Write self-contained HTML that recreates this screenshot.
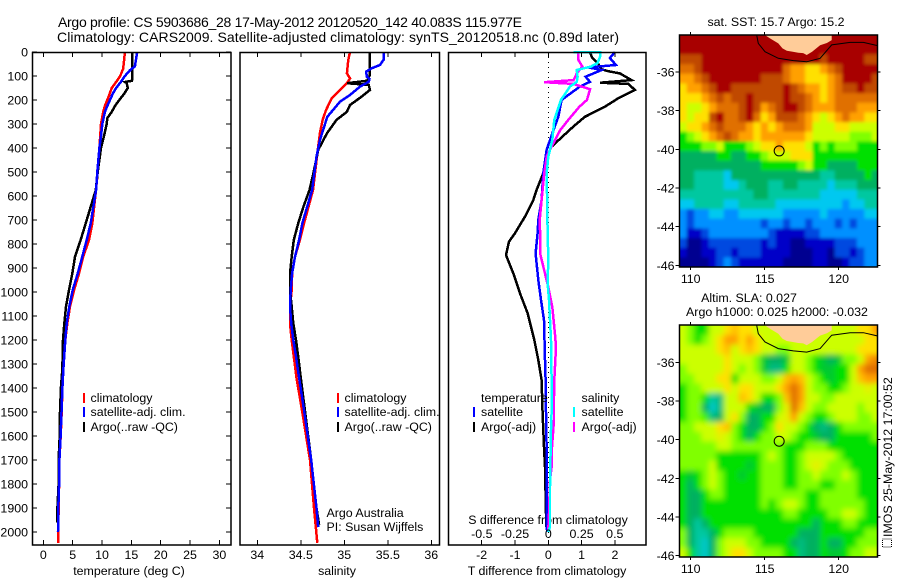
<!DOCTYPE html>
<html>
<head>
<meta charset="utf-8">
<title>Argo profile</title>
<style>
html,body{margin:0;padding:0;background:#fff;}
svg{display:block;}
text{font-family:"Liberation Sans",Arial,sans-serif;font-size:12.4px;fill:#000;}
</style>
</head>
<body>
<svg id="chart" width="900" height="580" viewBox="0 0 900 580" xmlns="http://www.w3.org/2000/svg">
<defs>
<filter id="sst-soften" filterUnits="userSpaceOnUse" x="640" y="0" width="260" height="300"><feGaussianBlur stdDeviation="1.6"/></filter>
<filter id="sla-soften" filterUnits="userSpaceOnUse" x="640" y="290" width="260" height="290"><feGaussianBlur stdDeviation="3"/></filter>
</defs>
<rect x="0" y="0" width="900" height="580" fill="#fff"/>
<text x="58" y="27" style="font-size:14px" textLength="464">Argo profile: CS 5903686_28 17-May-2012 20120520_142 40.083S 115.977E</text>
<text x="57" y="42" style="font-size:14px" textLength="562">Climatology: CARS2009. Satellite-adjusted climatology: synTS_20120518.nc (0.89d later)</text>
<text x="129" y="575" text-anchor="middle">temperature (deg C)</text>
<text x="337" y="575" text-anchor="middle">salinity</text>
<text x="547" y="575" text-anchor="middle">T difference from climatology</text>
<text x="548" y="524" text-anchor="middle">S difference from climatology</text>
<text x="776" y="26" text-anchor="middle">sat. SST: 15.7  Argo: 15.2</text>
<text x="749" y="302" text-anchor="middle">Altim. SLA: 0.027</text>
<text x="777" y="316" text-anchor="middle">Argo h1000: 0.025 h2000: -0.032</text>
<text x="326.5" y="517">Argo Australia</text>
<text x="326.5" y="531">PI: Susan Wijffels</text>
<g>
<rect x="882.5" y="539" width="9" height="8" fill="none" stroke="#000" stroke-width="1" stroke-dasharray="1 1"/>
<text transform="translate(892,537) rotate(-90)">IMOS 25-May-2012 17:00:52</text>
</g>
</svg>
<script>
// ---- profile data (depth in m) ----
var tClimDepth = [0,25,50,70,100,125,150,175,200,225,250,300,350,400,500,575,714,783,853,923,992,1061,1131,1200,1325,1400,1500,1600,1700,1800,1900,2000,2045];
var tClimValue = [13.9,13.8,13.7,13.6,13.1,12.4,11.65,11.3,10.9,10.5,10.2,9.83,9.7,9.55,9.26,8.98,8.35,7.79,6.8,6.08,5.23,4.55,4.09,3.75,3.41,3.25,3.13,2.96,2.75,2.7,2.6,2.56,2.55];
var tSatDepth = [0,60,75,100,125,150,175,200,225,250,300,350,400,500,575,714,783,853,923,992,1061,1131,1200,1325,1400,1500,1600,1700,1800,1900,2000];
var tSatValue = [16.0,15.6,14.8,13.9,13.2,12.4,11.8,11.36,10.9,10.5,10.05,9.83,9.55,9.2,9.0,8.07,7.39,6.64,5.86,5.0,4.43,3.98,3.75,3.41,3.25,3.1,2.95,2.75,2.7,2.55,2.5];
var tArgoDepth = [0,110,120,125,130,150,175,200,225,250,275,300,350,400,500,575,645,714,783,853,923,992,1061,1131,1200,1325,1400,1500,1600,1700,1800,1900,1960];
var tArgoValue = [15.17,15.17,15.1,13.9,14.2,14.4,13.75,12.95,12.2,11.65,10.9,10.8,10.34,9.83,9.26,8.95,8.07,7.22,6.37,5.4,4.94,4.38,3.87,3.58,3.36,3.24,3.0,2.85,2.8,2.6,2.6,2.4,2.4];

var sClimDepth = [0,33,89,110,130,158,193,242,283,339,394,505,575,714,783,853,923,992,1061,1131,1200,1269,1358,1500,1700,1900,2045];
var sClimValue = [35.065,35.046,35.03,35.065,35.03,34.95,34.855,34.79,34.75,34.72,34.70,34.663,34.64,34.537,34.49,34.433,34.40,34.395,34.376,34.376,34.395,34.42,34.45,34.517,34.606,34.652,34.69];
var sSatDepth = [0,33,54,68,82,103,112,124,144,179,207,270,367,436,547,575,714,783,853,923,992,1061,1131,1200,1269,1358,1500,1700,1900,1980];
var sSatValue = [35.45,35.45,35.41,35.315,35.25,35.26,35.29,35.28,35.18,35.065,34.95,34.805,34.72,34.68,34.64,34.63,34.517,34.48,34.433,34.40,34.384,34.376,34.39,34.414,34.445,34.48,34.54,34.62,34.68,34.70];
var sArgoDepth = [0,100,120,130,137,158,186,221,249,283,339,408,505,575,645,714,783,853,923,992,1061,1131,1200,1269,1358,1500,1700,1900,1970];
var sArgoValue = [35.295,35.29,35.26,35.03,35.28,35.295,35.2,35.065,35.03,34.91,34.8,34.70,34.645,34.6,34.53,34.47,34.42,34.395,34.376,34.376,34.395,34.414,34.445,34.47,34.5,34.55,34.62,34.68,34.71];

var dtSatDepth = [0,25,54,64,75,103,124,144,179,200,270,339,408,505,617,700,755,839,950,1033,1117,1283,1367,1500,1646,1784,1979,2000];
var dtSatValue = [2.0,1.85,2.03,1.2,1.6,1.12,1.25,0.95,0.6,0.4,0.3,0.12,-0.05,-0.15,-0.2,-0.3,-0.32,-0.38,-0.3,-0.22,-0.13,-0.1,-0.08,-0.07,-0.05,-0.05,-0.05,-0.03];
var dtArgoDepth = [0,25,50,72,80,89,117,128,133,158,193,228,270,311,394,436,505,575,617,686,755,790,846,922,1006,1089,1200,1283,1367,1505,1646,1729,1979];
var dtArgoValue = [1.25,1.32,1.5,1.6,1.8,2.15,2.5,1.55,2.4,2.6,2.1,1.7,1.1,0.75,0.1,-0.05,-0.15,-0.35,-0.45,-0.7,-1.0,-1.18,-1.27,-1.05,-0.85,-0.62,-0.42,-0.3,-0.2,-0.17,-0.13,-0.1,-0.06];
var dsSatDepth = [0,0,20,46,61,75,103,124,144,200,283,367,436,505,700,867,963,1033,1117,1200,1367,1500,1575,1729,1812,1979,2000];
var dsSatValue = [0.19,0.389,0.389,0.371,0.32,0.214,0.22,0.214,0.163,0.095,0.045,0.03,0.0,-0.012,-0.007,0,-0.005,0.005,0.013,0.02,0.025,0.025,0.02,0.015,0.013,0.013,0.0];
var dsArgoDepth = [0,33,61,89,117,126,133,140,155,200,228,283,325,394,436,505,617,700,755,839,896,979,1062,1172,1228,1367,1435,1533,1646,1729,1784,1923,1990];
var dsArgoValue = [0.226,0.226,0.256,0.214,0.19,-0.03,0.19,0.226,0.314,0.29,0.234,0.15,0.09,0.025,-0.012,-0.03,-0.05,-0.065,-0.062,-0.062,-0.037,0,0.03,0.05,0.058,0.045,0.043,0.043,0.028,0.025,0.013,0.005,0];

// ---- axis tick labels ----
var depthTicks = [0,100,200,300,400,500,600,700,800,900,1000,1100,1200,1300,1400,1500,1600,1700,1800,1900,2000];
var tempTicks = [0,5,10,15,20,25,30];
var salTicks = [34,34.5,35,35.5,36];
var salTickLabels = ['34','34.5','35','35.5','36'];
var dtTicks = [-2,-1,0,1,2];
var dtTickLabels = ['-2','-1','0','1','2'];
var dsTicks = [-0.5,-0.25,0,0.25,0.5];
var dsTickLabels = ['-0.5','-0.25','0','0.25','0.5'];
var lonTicks = [110,115,120];
var latTicks = [-36,-38,-40,-42,-44,-46];

// ---- map data: 27 columns (0.5 deg lon), 24 rows (0.5 deg lat), colour level units ----
var sstGrid = [
[14,14,14,14,14,14,14,14,14,14,14,14,14,14,14,14,14,14,14,14,14,14,14,14,14,14,14],
[14,14,14,14,14,14,14,14,14,14,14,14,14,14,14,14,14,14,14,14,14,14,14,14,14,14,14],
[13,13,13,14,14,14,14,14,14,14,14,14,14,14,14,14,14,14,14,13,14,14,14,14,14,13,13],
[12,12,13,14,14,14,14,14,14,14,14,14,14,14,12,11,11,10,10,11,12,13,14,14,14,14,14],
[11,11,12,13,14,14,14,14,14,14,14,13,13,13,12,11,11,10,10,10,11,12,14,14,14,14,13],
[10,11,11,12,13,14,14,13,13,13,13,13,13,13,14,13,12,11,11,10,11,12,13,13,14,13,13],
[10,10,10,11,12,13,12,13,13,14,13,13,13,13,14,13,13,12,11,10,11,12,12,12,12,12,12],
[10,9,9,10,11,12,12,12,13,14,13,11,12,13,14,14,13,12,11,11,11,12,12,12,11,11,11],
[10,9,10,10,13,14,12,12,13,14,12,10,11,13,13,13,12,11,10,9,10,11,12,11,11,10,10],
[9,10,10,11,12,13,12,12,12,11,10,11,10,11,12,12,12,11,9,9,9,10,10,9,9,9,9],
[7,8,9,10,11,12,13,12,11,11,10,11,11,11,11,11,11,10,9,9,9,9,9,8,8,8,9],
[7,7,7,8,8,9,7,7,7,8,9,10,10,11,10,10,10,9,7,8,7,8,8,8,7,7,7],
[6,6,6,6,6,7,7,6,6,7,7,8,9,9,9,10,10,10,7,7,7,7,7,7,7,7,7],
[6,6,6,6,6,6,6,6,6,6,6,7,7,7,7,7,8,9,7,7,6,6,6,6,7,7,7],
[6,6,5,5,5,5,4,6,6,6,6,6,6,6,6,6,6,6,6,5,5,6,6,6,6,7,6],
[6,6,5,5,5,5,4,4,5,6,6,6,5,5,6,6,5,5,5,5,4,5,5,5,6,6,6],
[5,5,5,5,5,5,5,5,5,5,6,6,5,5,5,5,5,5,5,4,4,4,4,4,5,5,5],
[4,4,5,5,5,5,4,4,5,5,5,5,5,4,4,4,4,4,4,4,4,4,3,4,4,5,5],
[3,2,3,3,4,4,3,3,4,4,4,4,4,4,3,3,3,3,3,4,3,3,3,3,3,4,4],
[3,2,3,3,3,3,3,3,3,3,3,2,3,3,2,3,3,2,3,3,3,2,3,2,3,3,3],
[3,1,1,2,3,3,3,3,3,3,3,3,2,1,1,1,1,2,2,3,3,3,3,3,3,3,3],
[2,0,0,1,2,2,2,2,2,2,2,1,2,1,1,0,0,1,1,1,1,2,2,2,3,3,3],
[1,0,0,1,1,2,2,1,2,2,2,1,1,1,1,0,0,0,1,1,0,2,2,1,2,3,3],
[0,0,0,0,1,2,3,2,1,1,1,1,1,1,0,0,0,0,1,1,0,0,1,2,2,3,3]
];
var slaGrid = [
[9,8,7,7,9,9,10,10.5,10,10,9,9,9,9,9,9,9,9,9,9,9,9,9,9,10,10,11],
[9,8,7,8,9,10,11,11,10,11,10,9,9,9,9,9,9,9,9,9,9,9,9,9,9,10,10],
[9,9,9,9,9,10,10.5,9,10,10.5,10,9,9,8,8,9,9,9,9,9,9,9,9,9,10,10,10],
[9,9,9,9,9,9,10,9,9,9,8,6.5,6,6,6.5,9,9,8,7,6.5,6,6.5,8,8,9,11,11.5],
[8,9,9,9,9,9,10,9,8,9,8,6.5,5.5,5.5,7,9,9,8,7,6.5,6.5,7,7,9,11,12,12],
[8,8,9,9,9,10,10,7,9,9,9,8,8,9,10.5,11,10.5,9,8,7,6.5,7,7,9,10.5,11,11],
[7,8,8,9,9,9,10,9,10,10,9,9,9,10,11,12,11,9,8,8,7,7,8,9,9,9.5,9],
[7,8,8,7,5,5.5,9,9,10.5,10,9,7,7,8,10.5,12,11,9,9,8,8,9,9,9,9,9,9],
[7,8,8,6,4.5,5.5,9,9,9,7,6.5,6,6,8,9.5,12,10.5,9,8,8,9,9,9,9,8,9,9],
[7,8,8,7.5,5.5,6,9,10,8,6,6,7,7,9,9.5,11,9,8,7,7,8,9,9,9,8,8,9],
[8,8,9,9,9,10,10.5,8,7,6,6,7,8,10,9,9,8,7,6,5.5,6,7,8,8,8,8,8],
[8,8,8,9,9,9.5,9,8,7,6,7,8,8,9,9,8,7,7,6.5,6,6,7,7,7,7,7,8],
[8,8,8,8,8,9,9,8,8,8,8,8,8,8,7,7,7,8,8,8,7,7,7,7,7,7,7],
[8,8,8,8,8,7,7,7,7,7,7,8,9,8,7,7,8,9,9,9,9,8,7,7,7,7,7],
[8,8,8,8,9,7,7,7,7,6.5,7,8,8,8,7,7,8,9,9.5,9,8,8,8,7,7,7,7],
[7,6.5,7,8,9,8,7,7,6.5,7,7,8,8,8,7,7,8,8,9,8,8,8,9,8,7,7,7],
[7,6,7,8,9,8,7,7,7,7,7,8,8,8,7,7,8,8,8,7,7,8,8,8,7,7,7],
[7,6,6,7,8,8,7,7,7,7,7,8,8,8,8,8,8,7,7,8,8,8,8,8,7,7,7],
[7,6,6,7,7,7,7,7,7,7,7,8,7,8,9,9,8,7,7,8,8,8,8,8,8,7,7],
[7,6,6,7,7,7,7,7,7,7,7,7,7,7,8,8,7,7,7,7,8,8,9,9,8,7,7],
[7,6,5,6,7,7,7,7,7,7,7,7,7,7,7,7,7,7,6,7,7,7,8,8,7,7,7],
[8,6,5,5,6,7,8,8,8,8,7,7,7,7,7,7,6,6,6,7,7,7,7,7,7,8,8],
[8,6,5,4.5,6,8,9,9,9,8,8,7,7,7,7,6,5.5,6,6,7,6,6,7,7,8,8,8],
[9,7,5,4.5,6,8,9,10,10,9,8,8,8,8,7,7,5.5,6,6,7,6.5,6.5,7,8,8,9,9]
];
var landLon = [115.02,115.4,115.92,116.2,116.49,116.9,117.27,117.6,117.84,118.2,118.74,119.2,119.53,119.53];
var landLat = [-34.09,-34.28,-34.52,-34.78,-34.9,-34.95,-35.0,-35.02,-35.12,-34.95,-34.62,-34.5,-34.35,-34.09];
var shelfLon = [114.46,114.57,115.02,115.92,116.94,117.84,118.74,119.53,120.77,121.67,122.64];
var shelfLat = [-34.09,-34.52,-34.95,-35.29,-35.41,-35.47,-35.29,-34.6,-34.47,-34.47,-34.64];
var floatLon = 115.977;
var floatLat = -40.083;

// ---- helpers ----
var NS = 'http://www.w3.org/2000/svg';
var root = document.getElementById('chart');
function make(tag, name, parent) {
  var el = document.createElementNS(NS, tag);
  parent.appendChild(el);
  return el;
}
function setAll(el, attrs) {
  for (var k in attrs) el.setAttribute(k, attrs[k]);
  return el;
}
var depthY = function (d) { return 52 + d * 0.24; };
var tempX = function (v) { return 43.3 + v * 5.87; };
var salX = function (v) { return 257.3 + (v - 34) * 87; };
var dtX = function (v) { return 548.3 + v * 33.3; };
var dsX = function (v) { return 548.3 + v * 133; };

function drawLine(parent, xFn, depths, values, colour, name, width) {
  var pts = [];
  for (var i = 0; i < values.length; i++) {
    pts.push(xFn(values[i]).toFixed(1) + ',' + depthY(depths[i]).toFixed(1));
  }
  var el = make('polyline', name, parent);
  
  
  setAll(el, {points: pts.join(' '), fill: 'none', stroke: colour, 'stroke-width': width || 2.5, 'shape-rendering': 'crispEdges', 'stroke-linejoin': 'miter'});
}
function tick(parent, x1, y1, x2, y2) {
  var el = make('line', 'tick', parent);
  
  
  setAll(el, {x1: x1, y1: y1, x2: x2, y2: y2, stroke: '#000', 'stroke-width': 1, 'shape-rendering': 'crispEdges'});
}
function label(parent, x, y, str, anchor) {
  var el = make('text', 'tick-label', parent);
  
  
  setAll(el, {x: x, y: y, 'text-anchor': anchor || 'middle'});
  el.textContent = str;
}
function frame(parent, x1, y1, x2, y2, name) {
  var el = make('rect', name, parent);
  
  
  setAll(el, {x: x1, y: y1, width: x2 - x1, height: y2 - y1, fill: 'none', stroke: '#000', 'stroke-width': 1.5});
}
function legend(parent, barX, textX, rowsText, rowsColour) {
  var rowY = [402, 416, 431];
  for (var i = 0; i < rowsText.length; i++) {
    if (rowsColour[i]) {
      var b = make('rect', 'legend-swatch', parent);
      
      
      setAll(b, {x: barX, y: rowY[i] - 9, width: 2, height: 10, fill: rowsColour[i]});
    }
    var t = make('text', 'legend-entry', parent);
    
    
    setAll(t, {x: textX, y: rowY[i]});
    t.textContent = rowsText[i];
  }
}

// ---- temperature panel ----
var p1 = make('g', 'temperature-panel', root);


drawLine(p1, tempX, tClimDepth, tClimValue, '#ff0000', 'temperature-climatology-line');
drawLine(p1, tempX, tArgoDepth, tArgoValue, '#000000', 'temperature-argo-line');
drawLine(p1, tempX, tSatDepth, tSatValue, '#0000ff', 'temperature-satellite-line');
frame(p1, 32.5, 52.5, 231, 545, 'temperature-plot-frame');
tempTicks.forEach(function (v) {
  tick(p1, tempX(v), 52, tempX(v), 57);
  tick(p1, tempX(v), 545, tempX(v), 540);
  label(p1, tempX(v), 559, String(v));
});
depthTicks.forEach(function (d) {
  tick(p1, 32, depthY(d), 37, depthY(d));
  tick(p1, 231, depthY(d), 226, depthY(d));
  label(p1, 28, depthY(d) + 4.5, String(d), 'end');
});
legend(p1, 83, 90.5, ['climatology', 'satellite-adj. clim.', 'Argo(..raw -QC)'], ['#ff0000', '#0000ff', '#000000']);

// ---- salinity panel ----
var p2 = make('g', 'salinity-panel', root);


drawLine(p2, salX, sClimDepth, sClimValue, '#ff0000', 'salinity-climatology-line');
drawLine(p2, salX, sArgoDepth, sArgoValue, '#000000', 'salinity-argo-line');
drawLine(p2, salX, sSatDepth, sSatValue, '#0000ff', 'salinity-satellite-line');
frame(p2, 240, 52.5, 439.5, 545, 'salinity-plot-frame');
salTicks.forEach(function (v, i) {
  tick(p2, salX(v), 52, salX(v), 57);
  tick(p2, salX(v), 545, salX(v), 540);
  label(p2, salX(v), 559, salTickLabels[i]);
});
legend(p2, 337, 344.5, ['climatology', 'satellite-adj. clim.', 'Argo(..raw -QC)'], ['#ff0000', '#0000ff', '#000000']);

// ---- difference panel ----
var p3 = make('g', 'difference-panel', root);


var zero = make('line', 'zero-line', p3);


setAll(zero, {x1: dtX(0), y1: 52, x2: dtX(0), y2: 545, stroke: '#000', 'stroke-width': 1, 'stroke-dasharray': '1 4', 'shape-rendering': 'crispEdges'});
drawLine(p3, dtX, dtArgoDepth, dtArgoValue, '#000000', 'temperature-difference-argo-line');
drawLine(p3, dtX, dtSatDepth, dtSatValue, '#0000ff', 'temperature-difference-satellite-line');
drawLine(p3, dsX, dsArgoDepth, dsArgoValue, '#ff00ff', 'salinity-difference-argo-line');
drawLine(p3, dsX, dsSatDepth, dsSatValue, '#00ffff', 'salinity-difference-satellite-line');
frame(p3, 448.5, 52.5, 646, 545, 'difference-plot-frame');
dtTicks.forEach(function (v, i) {
  tick(p3, dtX(v), 52, dtX(v), 57);
  tick(p3, dtX(v), 545, dtX(v), 540);
  label(p3, dtX(v), 559, dtTickLabels[i]);
});
dsTicks.forEach(function (v, i) {
  label(p3, dsX(v), 538, dsTickLabels[i]);
});
legend(p3, 473, 481, ['temperature', 'satellite', 'Argo(-adj)'], [null, '#0000ff', '#000000']);
legend(p3, 573, 581.5, ['salinity', 'satellite', 'Argo(-adj)'], [null, '#00ffff', '#ff00ff']);

// ---- maps ----
var levelColours = ['#000090','#0000c8','#0048e0','#0090ff','#00c8f0','#00c8a0','#00b060','#00e000','#80ff00','#ccff00','#ffe000','#ffa000','#e07000','#c04800','#a80000'];
function levelColour(v) {
  var a = Math.floor(v), b = Math.min(a + 1, levelColours.length - 1), f = v - a;
  function ch(c, s) { return parseInt(c.substr(s, 2), 16); }
  var out = [1, 3, 5].map(function (s) {
    return Math.round(ch(levelColours[a], s) * (1 - f) + ch(levelColours[b], s) * f);
  });
  return 'rgb(' + out.join(',') + ')';
}
function drawMap(name, grid, yAtLat36, left, top, right, bottom, labelY, soften) {
  var g = make('g', name, root);
  
  
  var lonX = function (lon) { return 690.7 + (lon - 110) * 14.8; };
  var latY = function (lat) { return yAtLat36 + (-36 - lat) * 19.33; };
  var lon0 = 109.23, lat0 = -34.09, pad = 18;
  var clip = make('clipPath', 'clip', g);
  clip.setAttribute('id', name + '-clip');
  var cr = make('rect', 'clip-rect', clip);
  setAll(cr, {x: left, y: top, width: right - left, height: bottom - top});
  var inner = make('g', name + '-content', g);
  
  
  inner.setAttribute('clip-path', 'url(#' + name + '-clip)');
  var cells = make('g', name + '-cells', inner);
  
  
  cells.setAttribute('filter', 'url(#' + soften + ')');
  grid.forEach(function (row, r) {
    row.forEach(function (v, c) {
      var x1 = lonX(lon0 + c * 0.5), x2 = lonX(lon0 + (c + 1) * 0.5);
      var y1 = latY(lat0 - r * 0.5), y2 = latY(lat0 - (r + 1) * 0.5);
      if (c === 0) x1 -= pad;
      if (c === row.length - 1) x2 += pad;
      if (r === 0) y1 -= pad;
      if (r === grid.length - 1) y2 += pad;
      var cell = make('rect', 'cell', cells);
      
      
      setAll(cell, {x: x1.toFixed(1), y: y1.toFixed(1), width: (x2 - x1 + 0.6).toFixed(1), height: (y2 - y1 + 0.6).toFixed(1), fill: levelColour(v)});
    });
  });
  var landPts = landLon.map(function (lon, i) { return lonX(lon).toFixed(1) + ',' + latY(landLat[i]).toFixed(1); });
  var land = make('polygon', 'land', inner);
  
  
  setAll(land, {points: landPts.join(' '), fill: '#ffcc99'});
  var shelfPts = shelfLon.map(function (lon, i) { return lonX(lon).toFixed(1) + ',' + latY(shelfLat[i]).toFixed(1); });
  var shelf = make('polyline', 'shelf', inner);
  
  
  setAll(shelf, {points: shelfPts.join(' '), fill: 'none', stroke: '#000', 'stroke-width': 1});
  var dot = make('circle', 'float', inner);
  
  
  setAll(dot, {cx: lonX(floatLon), cy: latY(floatLat), r: 5, fill: 'none', stroke: '#000', 'stroke-width': 1});
  frame(g, left, top, right, bottom, name + '-frame');
  lonTicks.forEach(function (lon) {
    tick(g, lonX(lon), top, lonX(lon), top - 3);
    tick(g, lonX(lon), bottom, lonX(lon), bottom + 3);
    label(g, lonX(lon), labelY, String(lon));
  });
  latTicks.forEach(function (lat) {
    tick(g, left, latY(lat), left - 4, latY(lat));
    tick(g, right, latY(lat), right + 3, latY(lat));
    label(g, left - 5, latY(lat) + 4.5, String(lat), 'end');
  });
}
drawMap('sst-map', sstGrid, 72, 679.5, 35, 877.5, 267, 283, 'sst-soften');
drawMap('sla-map', slaGrid, 362.3, 679.5, 325, 877.5, 557, 573, 'sla-soften');
</script>
</body>
</html>
